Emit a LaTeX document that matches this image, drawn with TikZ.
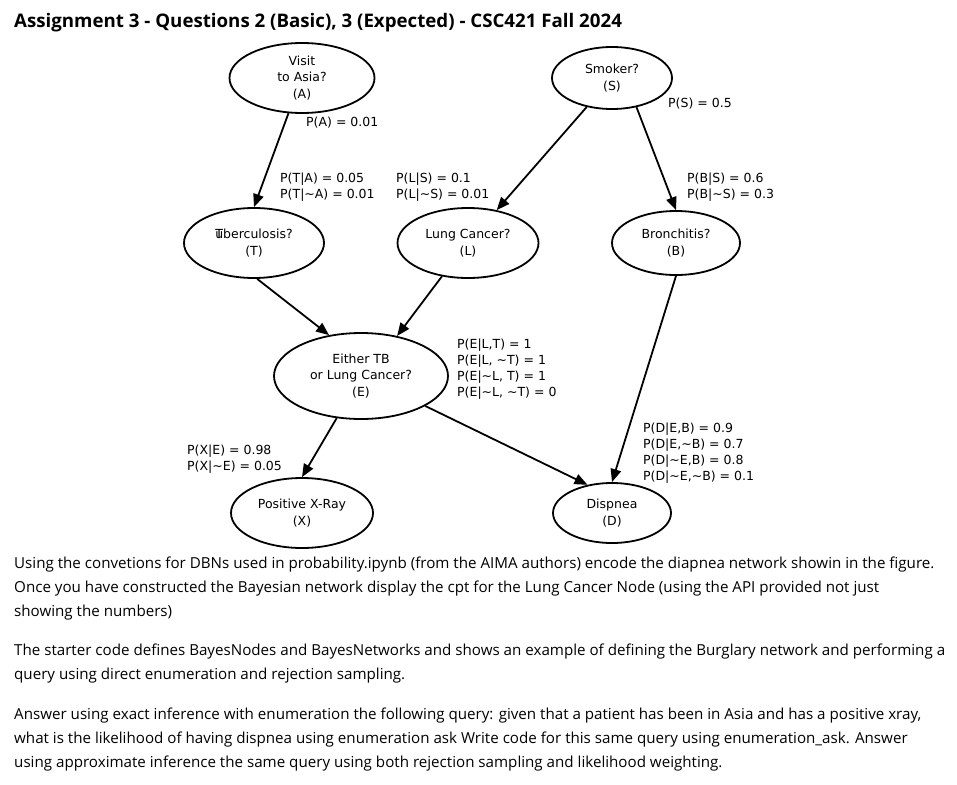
\documentclass[tikz,border=0pt]{standalone}
\usepackage{fontspec}
\setmainfont{Open Sans}
\newfontfamily\graphfont{DejaVu Sans}
\usetikzlibrary{shapes.geometric,arrows.meta}

\tikzset{
  bnode/.style={draw, ellipse, line width=1.8pt, inner sep=0pt, align=center,
    font=\graphfont\fontsize{12.5}{16.5}\selectfont},
  cpt/.style={anchor=west, inner sep=0pt, align=left,
    font=\graphfont\fontsize{12.5}{15.8}\selectfont},
  para/.style={anchor=base west, inner sep=0pt, font=\fontsize{15.15}{24}\selectfont},
  edge/.style={->, line width=1.8pt}
}

\begin{document}
\begin{tikzpicture}[x=1pt, y=-1pt, >={Triangle[length=13pt,width=10.5pt]}]
  \useasboundingbox (0,0) rectangle (957,784);
  \node[anchor=base west, inner sep=0pt, font=\bfseries\fontsize{18.7}{22}\selectfont] (title) at (14,28)
    {Assignment 3 - Questions 2 (Basic), 3 (Expected) - CSC421 Fall 2024};

  % the network
  \node[bnode, minimum width=145pt, minimum height=70pt] (A) at (302,78) {Visit\\to Asia?\\(A)};
  \node[bnode, minimum width=120pt, minimum height=62pt] (S) at (612,78) {Smoker?\\(S)};
  \node[bnode, minimum width=140pt, minimum height=70pt] (T) at (254,243) {\rlap{T}uberculosis?\\(T)};
  \node[bnode, minimum width=141pt, minimum height=70pt] (L) at (468,243) {Lung Cancer?\\(L)};
  \node[bnode, minimum width=128pt, minimum height=64pt] (B) at (676,243) {Bronchitis?\\(B)};
  \node[bnode, minimum width=174pt, minimum height=86pt] (E) at (361,376) {Either TB\\or Lung Cancer?\\(E)};
  \node[bnode, minimum width=142pt, minimum height=70pt] (X) at (302,513) {Positive X-Ray\\(X)};
  \node[bnode, minimum width=118pt, minimum height=60pt] (D) at (612,513) {Dispnea\\(D)};

  \draw[edge] (A.-111) -- (T.north);
  \draw[edge] (S) -- (L);
  \draw[edge] (S.-50) -- (B.north);
  \draw[edge] (T.-85) -- (E.128);
  \draw[edge] (L.-128) -- (E.48);
  \draw[edge] (E.-120) -- (X.north);
  \draw[edge] (E.-25) -- (D.131);
  \draw[edge] (B.south) -- (D.north);

  % conditional probability tables
  \node[cpt] (pA) at (306,123) {P(A) = 0.01};
  \node[cpt] (pS) at (668,104) {P(S) = 0.5};
  \node[cpt] (pT) at (280,187.5) {P(T|A) = 0.05\\P(T|\textasciitilde A) = 0.01};
  \node[cpt] (pL) at (396,187.5) {P(L|S) = 0.1\\P(L|\textasciitilde S) = 0.01};
  \node[cpt] (pB) at (687,187.5) {P(B|S) = 0.6\\P(B|\textasciitilde S) = 0.3};
  \node[cpt] (pE) at (457,369) {P(E|L,T) = 1\\P(E|L, \textasciitilde T) = 1\\P(E|\textasciitilde L, T) = 1\\P(E|\textasciitilde L, \textasciitilde T) = 0};
  \node[cpt] (pX) at (187,459) {P(X|E) = 0.98\\P(X|\textasciitilde E) = 0.05};
  \node[cpt] (pD) at (643,453) {P(D|E,B) = 0.9\\P(D|E,\textasciitilde B) = 0.7\\P(D|\textasciitilde E,B) = 0.8\\P(D|\textasciitilde E,\textasciitilde B) = 0.1};

  % the text below
  \node[para] (line1) at (14,568) {Using the convetions for DBNs used in probability.ipynb (from the AIMA authors) encode the diapnea network showin in the figure.};
  \node[para] (line2) at (14,592) {Once you have constructed the Bayesian network display the cpt for the Lung Cancer Node (using the API provided not just};
  \node[para] (line3) at (14,616) {showing the numbers)};
  \node[para] (line4) at (14,655) {The starter code defines BayesNodes and BayesNetworks and shows an example of defining the Burglary network and performing a};
  \node[para] (line5) at (14,679) {query using direct enumeration and rejection sampling.};
  \node[para] (line6) at (14,719) {Answer using exact inference with enumeration the following query: given that a patient has been in Asia and has a positive xray,};
  \node[para] (line7) at (14,743) {what is the likelihood of having dispnea using enumeration ask Write code for this same query using enumeration\_ask. Answer};
  \node[para] (line8) at (14,767) {using approximate inference the same query using both rejection sampling and likelihood weighting.};
\end{tikzpicture}
\end{document}
